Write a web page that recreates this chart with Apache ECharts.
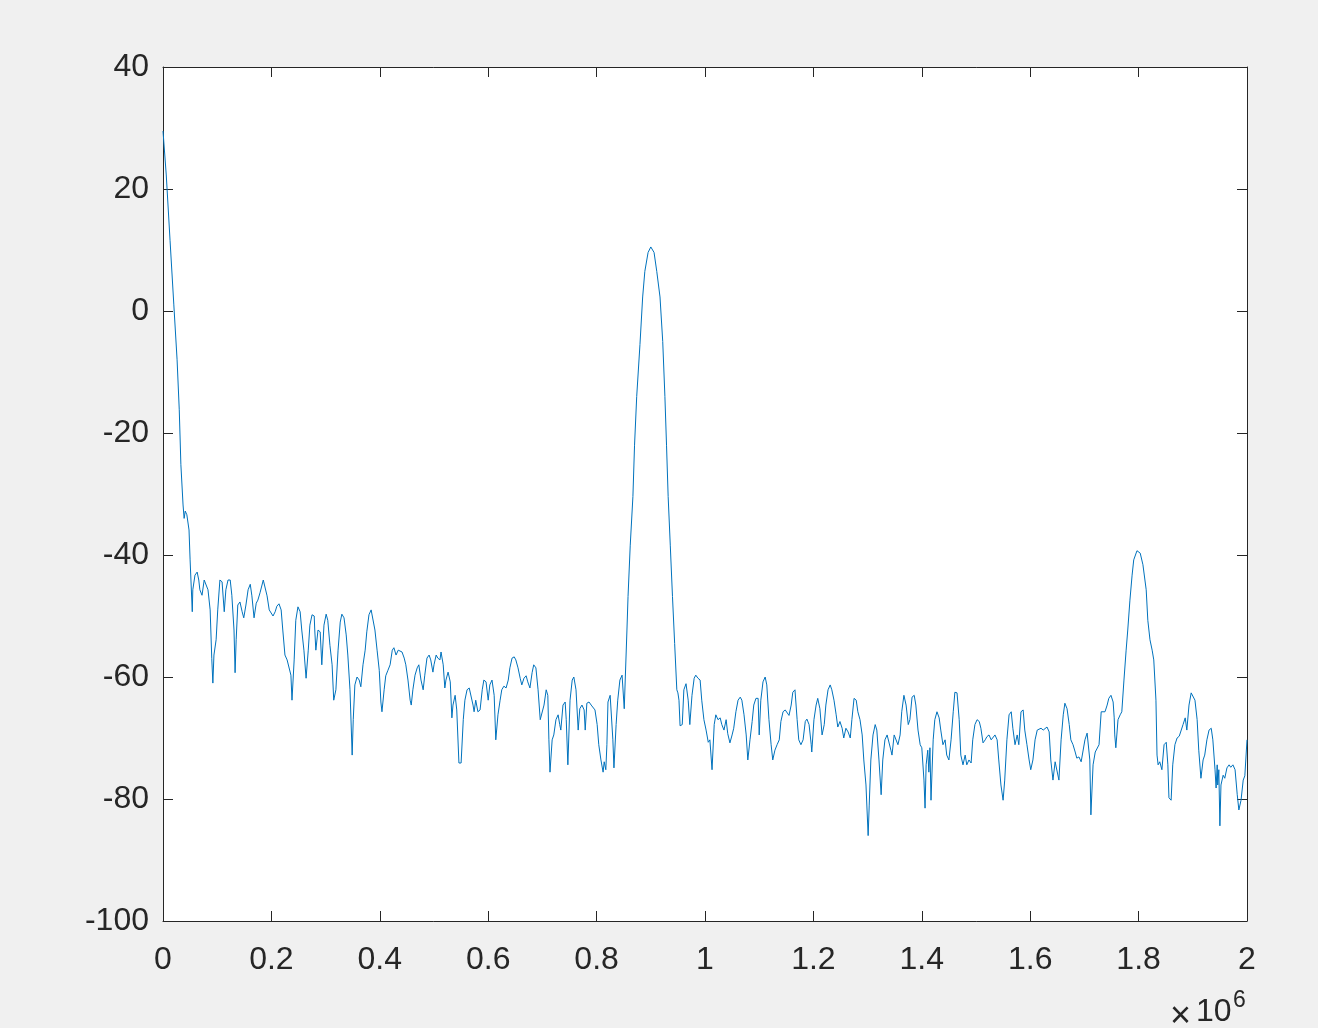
<!DOCTYPE html>
<html>
<head>
<meta charset="utf-8">
<script src="https://cdn.jsdelivr.net/npm/echarts@6/dist/echarts.min.js"></script>
<style>
html,body{margin:0;padding:0;background:#f0f0f0;}
#chart{width:1318px;height:1028px;}
</style>
</head>
<body>
<div id="chart"></div>
<script>
// Frequency in kHz (axis shows units of 1e6 Hz)
var freqKHz = [
0,6,13,20,26,30,33,37,39,41,
44,48,50,54,55,57,59,63,66,68,
72,76,79,83,87,90,92,94,98,101,
105,109,113,116,120,124,127,131,133,135,
138,142,146,149,153,157,161,164,168,172,
175,179,185,188,192,196,199,203,207,210,
214,218,221,225,229,232,236,238,242,245,
249,253,256,260,264,268,271,275,279,280,
282,286,290,293,297,301,304,308,312,315,
319,323,327,330,334,338,341,345,349,351,
354,358,362,365,369,373,376,380,384,387,
391,395,399,402,404,408,411,415,419,423,
426,430,434,437,441,445,448,452,456,458,
461,465,469,472,476,480,483,487,491,494,
498,500,504,507,511,513,517,520,522,526,
530,533,535,539,542,546,550,554,557,561,
565,568,572,574,577,581,585,589,592,596,
600,603,607,611,614,618,622,625,629,633,
637,640,644,648,651,655,659,662,666,670,
673,677,681,684,688,692,696,699,703,707,
710,712,714,718,721,725,729,732,734,738,
742,744,747,751,755,758,762,766,769,773,
777,779,782,786,790,793,797,801,804,808,
812,814,817,819,821,825,828,830,832,836,
839,843,847,851,856,858,862,867,870,874,
880,885,889,895,900,906,911,917,922,926,
929,932,936,940,944,948,950,952,954,958,
961,965,
969,972,976,980,983,987,991,994,998,1002,
1006,1009,1013,1017,1020,1024,1028,1031,1035,1039,
1042,1046,1050,1053,1057,1061,1065,1068,1072,1076,
1079,1083,1087,1090,1094,1098,1100,1103,1107,1111,
1114,1118,1122,1125,1129,1133,1137,1140,1144,1148,
1151,1155,1159,1162,1166,1170,1173,1177,1181,1185,
1188,1192,1196,1197,1201,1205,1208,1212,1216,1220,
1223,1227,1231,1234,1238,1242,1245,1249,1253,1256,
1260,1264,1268,1271,1275,1279,1282,1286,1290,1293,
1297,1301,1303,1306,1310,1314,1317,1321,1325,1328,
1332,1336,1339,1343,1345,1349,1352,1356,1360,1363,
1367,1371,1375,1378,1382,1386,1389,1393,1397,1400,
1404,1406,1408,1411,1413,1415,1417,1421,1424,1428,
1432,1435,1439,1443,1446,1450,1454,1458,1461,1465,
1469,1472,1476,1480,1483,1487,1491,1494,1498,1502,
1506,1509,1513,1517,1520,1524,1528,1531,1535,1539,
1542,1546,1550,1553,1557,1561,1565,1568,1572,1576,
1579,1583,1587,1590,1594,1598,1601,1605,1609,1613,
1616,1620,1624,1627,1631,1635,1638,1642,1646,1649,
1653,1657,1661,1664,1668,1672,1675,1679,1683,1686,
1690,1694,1697,1701,1705,1708,1710,1712,1716,1720,
1723,1727,1731,1734,1738,1742,1745,1749,1753,1755,
1756,1758,1762,1766,1769,1773,1777,1780,1784,1788,
1791,1797,1803,1808,1814,1817,1821,1825,1828,1832,
1834,1836,1839,1843,1847,1851,1854,1856,1860,1863,
1867,1871,1875,1878,1882,1886,1889,1893,1897,1900,
1904,1908,1911,1915,1919,1922,1926,1930,1934,1937,
1941,1943,1945,1946,1948,1950,1952,1956,1959,1963,
1967,1970,1974,1978,1982,1985,1989,1993,1996,2000
];
// Magnitude in dB
var magDB = [
29.5,22.3,11.6,1,-8,-16.2,-25.2,-31.8,-34,-32.8,
-33.4,-35.9,-40.8,-49.3,-45.7,-45.4,-43.3,-42.8,-44.1,-45.7,
-46.6,-44.1,-43.8,-45.7,-49,-57,-61,-56.4,-53.9,-49,
-44.1,-44.4,-49.3,-45.7,-44.1,-44.1,-46.6,-52.3,-59.3,-53.9,
-48.2,-47.7,-49.3,-50.3,-48.2,-45.7,-44.8,-46.7,-50.3,-47.9,
-47.4,-46.2,-44.1,-44.4,-46.7,-49,-49.2,-50,-49.3,-48.4,
-48,-49,-52.3,-56.4,-57.2,-56.9,-59.7,-63.8,-57.2,-50.7,
-48.5,-49.3,-52.3,-55.6,-60.2,-55.6,-51.5,-49.8,-50,-52.3,
-55.6,-52.3,-52.6,-58,-51.5,-49.7,-50.7,-54.8,-58,-63.8,
-62.1,-55.6,-51,-49.7,-50.3,-53.1,-56.4,-62.1,-72.8,-67,
-61.3,-60,-60.5,-61.6,-58,-55.6,-52.6,-49.8,-49,-49.3,
-52.3,-55.6,-58.9,-64.1,-65.7,-62.1,-59.8,-58.9,-58,-55.6,
-55.2,-56.4,-55.6,-55.6,-55.9,-56.9,-58,-60.5,-63.8,-64.6,
-62.1,-59.7,-58.5,-58,-60.5,-62.1,-59.7,-56.9,-56.4,-57.2,
-59.2,-58,-56.4,-56.9,-57.2,-55.9,-58,-61.8,-60.5,-59.2,
-60.8,-66.7,-64.6,-63,-65.4,-74.1,-74.1,-67,-63.8,-62.1,
-61.8,-62.1,-64.6,-65.7,-63.8,-65.7,-65.4,-62.1,-60.5,-60.8,
-63.8,-61.3,-60.5,-63,-70.3,-66.2,-63.8,-62.1,-61.5,-61.8,
-60.5,-58.5,-56.9,-56.7,-57.2,-58.5,-60.2,-61.3,-60.2,-59.8,
-60.8,-61.8,-59.3,-58,-58.5,-62.1,-67,-66.7,-64.6,-62.1,
-63,-70.3,-75.6,-70.3,-69.5,-67,-66.2,-67.8,-68.7,-64.6,
-64.1,-67,-74.4,-63.8,-60.5,-60,-62.1,-68.7,-65.2,-64.6,
-65.4,-68.7,-64.3,-64.1,-64.6,-64.3,-65.4,-67.8,-71.1,-73.6,
-75.6,-73.9,-75.2,-71.1,-64.1,-63,-63.1,-70.3,-74.9,-67.8,
-63.8,-60.5,-59.7,-65.2,-52.3,-46.8,-38.5,-30.4,-22,-14,
-5.5,2.3,6.5,9.6,10.5,9.6,6.5,2.3,-5,-14,
-22,-30.4,-38.5,-46.8,-54.5,-62.1,-62.6,-63.8,-68,-67.8,
-62.1,-61.1,
-63.8,-67.8,-63,-60.2,-59.7,-60.2,-60.5,-63.8,-67,-68.7,
-70.7,-70.3,-75.2,-67.8,-66.2,-67,-66.7,-67.8,-68.7,-67,
-69.3,-70.8,-69.5,-68.4,-65.7,-63.8,-63.3,-63.8,-66.2,-69.5,
-73.6,-70.3,-67.3,-64.6,-63.5,-63.5,-69.5,-63.8,-60.8,-60,
-61.3,-67,-71.1,-73.6,-72,-71.1,-70.3,-67.3,-65.7,-65.4,
-65.7,-66.3,-64.6,-62.5,-62.1,-67,-70.3,-71.1,-70.3,-67.3,
-66.9,-67.8,-71.1,-72.3,-67,-64.6,-63.5,-65.2,-69.5,-67.8,
-64.6,-62.1,-61.3,-62.1,-63.8,-66.2,-68.2,-67.3,-68.4,-70,
-68.4,-69,-70,-67,-63.5,-63.8,-65.7,-67,-69.5,-73.6,
-77.7,-86,-81,-73.6,-69.5,-67.8,-68.7,-73.6,-79.3,-73.6,
-70.3,-69.5,-69.5,-72,-72.8,-69.5,-69.2,-71.1,-69.5,-65.7,
-63,-64.6,-67.8,-67,-63.3,-63,-64.6,-68.7,-71.1,-71.6,
-76.9,-81.5,-74.4,-72,-75.6,-71.6,-80.2,-70.3,-67,-65.7,
-66.7,-68.7,-71.1,-70.3,-72.8,-73.6,-70.3,-65.7,-62.5,-62.6,
-67,-72.8,-74.4,-72.8,-74.4,-73.6,-74.1,-70.3,-67.8,-67,
-67.3,-68.4,-70.8,-70.3,-69.8,-69.5,-70.3,-70,-69.5,-70.3,
-73.6,-77.7,-80.2,-76.9,-70.3,-66.2,-65.7,-68.4,-71.1,-69.5,
-71.1,-65.7,-65.4,-68.7,-71.1,-73.6,-75.2,-73.6,-70.3,-68.7,
-68.4,-68.4,-68.7,-68.4,-68.2,-69,-73.6,-76.9,-73.9,-73.6,
-76.9,-70.3,-66.2,-64.3,-65.2,-67.8,-70.3,-71.1,-72.3,-73.3,
-73.1,-73.9,-73.6,-70.3,-69.2,-69.5,-73.6,-82.6,-74.4,-72.3,
-72.3,-71.1,-65.7,-65.4,-65.7,-64.6,-63.5,-63,-64.1,-66.7,
-69.5,-71.6,-67,-66.2,-65.7,-60.5,-55.6,-52.3,-47.4,-43.3,
-40.8,-39.3,-39.7,-41.6,-45.7,-50.7,-53.9,-55.6,-57.2,-63.8,
-72.8,-74.4,-73.9,-75.2,-71.1,-70.7,-74.4,-79.8,-80.2,-74.4,
-71.1,-70,-69.7,-69.5,-67.8,-66.7,-68.7,-64.6,-62.6,-62.5,
-63.8,-67,-72,-76.6,-73.6,-72.8,-70.3,-68.7,-68.4,-70.3,
-75.2,-78.2,-74.4,-77.7,-75.2,-84.4,-77.7,-76.1,-76.6,-74.9,
-74.4,-74.8,-74.4,-75.2,-79.3,-81.8,-80.2,-76.9,-76.2,-70.3
];
var xRange = [0, 2000], xStep = 200;
var yRange = [-100, 40], yStep = 20;
var exponentSign = '×', exponentBase = '10', exponentPower = '6';

var ink = '#262626';
var font = 'Liberation Sans, Arial, Helvetica, sans-serif';
var seriesData = freqKHz.map(function (f, i) { return [f, magDB[i]]; });

function axisBase(extra) {
  var a = {
    axisLine: { show: true, onZero: false, lineStyle: { color: ink, width: 1 } },
    axisTick: { show: true, inside: true, length: 10, lineStyle: { color: ink, width: 1 } },
    splitLine: { show: false },
    axisLabel: { show: true, color: ink, fontSize: 32, fontFamily: font }
  };
  for (var k in extra) a[k] = extra[k];
  return a;
}

var chart = echarts.init(document.getElementById('chart'), null, { renderer: 'canvas' });
chart.setOption({
  backgroundColor: '#f0f0f0',
  animation: false,
  grid: { left: 163, right: 71, top: 67, bottom: 107, show: true, backgroundColor: '#ffffff', borderWidth: 0 },
  xAxis: [
    axisBase({ type: 'value', position: 'bottom', min: xRange[0], max: xRange[1], interval: xStep,
      axisLabel: { color: ink, fontSize: 32, fontFamily: font, margin: 23, showMinLabel: true, showMaxLabel: true,
        formatter: function (v) { return String(parseFloat((v / 1000).toFixed(1))); } } }),
    axisBase({ type: 'value', position: 'top', min: xRange[0], max: xRange[1], interval: xStep,
      axisLabel: { show: false } })
  ],
  yAxis: [
    axisBase({ type: 'value', position: 'left', min: yRange[0], max: yRange[1], interval: yStep,
      axisLabel: { color: ink, fontSize: 32, fontFamily: font, margin: 14, padding: [5, 0, 0, 0],
        showMinLabel: true, showMaxLabel: true } }),
    axisBase({ type: 'value', position: 'right', min: yRange[0], max: yRange[1], interval: yStep,
      axisLabel: { show: false } })
  ],
  series: [{
    type: 'line',
    xAxisIndex: 0, yAxisIndex: 0,
    data: seriesData,
    showSymbol: false,
    symbol: 'none',
    smooth: false,
    clip: true,
    lineStyle: { color: '#0072BD', width: 1 },
    emphasis: { disabled: true }
  }],
  graphic: [
    { type: 'text', left: 1170, top: 999, style: { text: exponentSign, fill: ink, font: '36px ' + font } },
    { type: 'text', left: 1196, top: 996, style: { text: exponentBase, fill: ink, font: '32px ' + font } },
    { type: 'text', left: 1233, top: 989, style: { text: exponentPower, fill: ink, font: '23px ' + font } }
  ]
});
</script>
</body>
</html>
